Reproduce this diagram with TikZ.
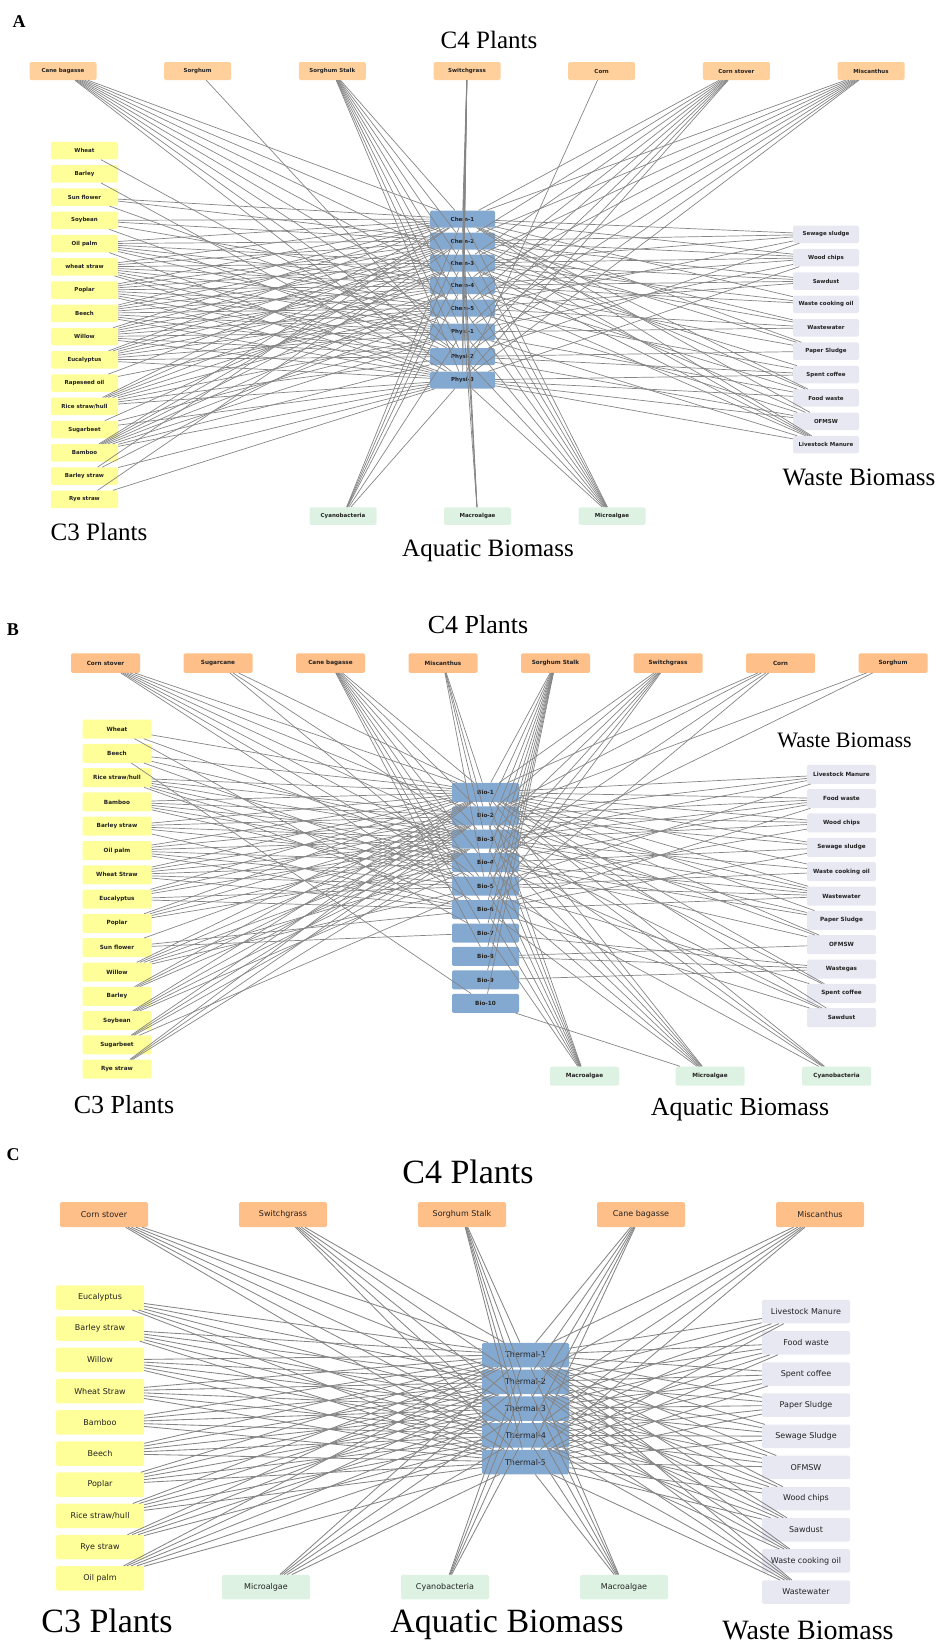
\documentclass[tikz,border=0pt]{standalone}
\usepackage{fontspec}
\setmainfont{Liberation Serif}
\newfontfamily\labf{DejaVu Sans}
\definecolor{orA}{HTML}{FFCF9C}
\definecolor{orB}{HTML}{FFBF88}
\definecolor{yel}{HTML}{FFFF99}
\definecolor{blu}{HTML}{84A9D1}
\definecolor{lav}{HTML}{E8E8F3}
\definecolor{grn}{HTML}{DDF2E2}
\definecolor{edg}{HTML}{858585}
\definecolor{txt}{HTML}{222222}
\begin{document}
\begin{tikzpicture}[x=1pt,y=-1pt]
\useasboundingbox (0,0) rectangle (940,1642);
\tikzset{
  box/.style={rounded corners=1.5pt, inner sep=0pt, text=txt, align=center},
  nA/.style={box, minimum width=67pt, minimum height=17.5pt, font={\labf\bfseries\fontsize{5.5}{6}\selectfont}},
  nB/.style={box, minimum width=69pt, minimum height=19pt, font={\labf\bfseries\fontsize{5.7}{6}\selectfont}},
  nC/.style={box, minimum width=88pt, minimum height=24.5pt, font={\labf\fontsize{8}{8}\selectfont}},
  ttl/.style={inner sep=0pt, text=black},
  plab/.style={inner sep=0pt, text=black, font={\bfseries\fontsize{18}{18}\selectfont}},
  edge/.style={draw=edg, line width=0.7pt},
  edgeC/.style={draw=edg, line width=0.85pt}
}

%================ PANEL A ================
\node[plab] (labA) at (19,21.5) {A};
\node[ttl, font=\fontsize{25}{25}\selectfont] (aC4) at (489,40) {C4 Plants};
\node[ttl, font=\fontsize{25}{25}\selectfont] (aC3) at (99,532) {C3 Plants};
\node[ttl, font=\fontsize{25}{25}\selectfont] (aWB) at (859,477) {Waste Biomass};
\node[ttl, font=\fontsize{25}{25}\selectfont] (aAB) at (488,551) {Aquatic Biomass};

\foreach \t [count=\i] in {Cane bagasse, Sorghum, Sorghum Stalk, Switchgrass, Corn, Corn stover, Miscanthus}
  \node[nA, fill=orA, minimum height=18pt] (aT\i) at ({63+134.67*(\i-1)}, 71) {\t};
\foreach \t [count=\i] in {Wheat, Barley, Sun flower, Soybean, Oil palm, wheat straw, Poplar, Beech, Willow, Eucalyptus, Rapeseed oil, {Rice straw/hull}, Sugarbeet, Bamboo, Barley straw, Rye straw}
  \node[nA, fill=yel] (aL\i) at (84.5, {150.7+23.24*(\i-1)}) {\t};
\foreach \t/\yy [count=\i] in {Chem-1/219, Chem-2/241, Chem-3/263, Chem-4/285.5, Chem-5/308, Physi-1/332, Physi-2/356.5, Physi-3/380}
  \node[nA, fill=blu, minimum width=65pt, minimum height=17pt] (aP\i) at (462.5, \yy) {\t};
\foreach \t [count=\i] in {Sewage sludge, Wood chips, Sawdust, Waste cooking oil, Wastewater, Paper Sludge, Spent coffee, Food waste, OFMSW, Livestock Manure}
  \node[nA, fill=lav, minimum width=66pt] (aR\i) at (826, {234.3+23.38*(\i-1)}) {\t};
\foreach \t/\xx [count=\i] in {Cyanobacteria/343, Macroalgae/477.5, Microalgae/612}
  \node[nA, fill=grn] (aB\i) at (\xx, 516) {\t};

\foreach \s/\ts in {aT1/{1,2,3,4,5,6,7,8}, aT2/{7}, aT3/{1,2,3,4,5,6,7,8}, aT4/{1,2,3,4,5,6,7,8}, aT5/{8}, aT6/{1,2,3,4,5,6,7,8}, aT7/{1,2,3,4,5,6,7,8},
  aL1/{7}, aL2/{8}, aL3/{1,2,6}, aL4/{1,2,4,7}, aL5/{1,2,3,4,5,6,8}, aL6/{1,2,3,4,5,6,7,8}, aL7/{1,2,3,4,5,6,7,8}, aL8/{1,2,3,4,5,6,7,8}, aL9/{1,2,3,4,5,6,7,8}, aL10/{1,2,3,4,5,6,7,8}, aL11/{2,5}, aL12/{1,2,3,4,5,6,7,8}, aL13/{3,6,8}, aL14/{1,2,3,4,5,6,7,8}, aL15/{1,4,8}, aL16/{2,8},
  aR1/{1,2,3,5,7}, aR2/{1,2,3,4,6,8}, aR3/{2,3,4,5}, aR4/{1,3,4}, aR5/{2,3,5,6}, aR6/{1,2,4,7}, aR7/{3,5,7,8}, aR8/{1,2,4,6,8}, aR9/{1,3,5,7,8}, aR10/{1,2,3,4,6,8},
  aB1/{1,2,3,4,6,8}, aB2/{1,2,3,5}, aB3/{1,2,3,4,5,6,7,8}}
  {\foreach \k in \ts {\draw[edge] (\s) -- (aP\k);}}

%================ PANEL B ================
\node[plab] (labB) at (13,630) {B};
\node[ttl, font=\fontsize{26}{26}\selectfont] (bC4) at (478,625) {C4 Plants};
\node[ttl, font=\fontsize{22}{22}\selectfont] (bWB) at (844.5,740) {Waste Biomass};
\node[ttl, font=\fontsize{26}{26}\selectfont] (bC3) at (124,1105) {C3 Plants};
\node[ttl, font=\fontsize{26}{26}\selectfont] (bAB) at (740,1110) {Aquatic Biomass};

\foreach \t [count=\i] in {Corn stover, Sugarcane, Cane bagasse, Miscanthus, Sorghum Stalk, Switchgrass, Corn, Sorghum}
  \node[nB, fill=orB, minimum height=19.5pt] (bT\i) at ({105.5+112.5*(\i-1)}, 663) {\t};
\foreach \t [count=\i] in {Wheat, Beech, {Rice straw/hull}, Bamboo, Barley straw, Oil palm, Wheat Straw, Eucalyptus, Poplar, Sun flower, Willow, Barley, Soybean, Sugarbeet, Rye straw}
  \node[nB, fill=yel] (bL\i) at (117, {729+24.3*(\i-1)}) {\t};
\foreach \i in {1,...,10}
  \node[nB, fill=blu, minimum width=67pt] (bP\i) at (485.5, {792.3+23.45*(\i-1)}) {Bio-\i};
\foreach \t [count=\i] in {Livestock Manure, Food waste, Wood chips, Sewage sludge, Waste cooking oil, Wastewater, Paper Sludge, OFMSW, Wastegas, Spent coffee, Sawdust}
  \node[nB, fill=lav] (bR\i) at (841.5, {774.3+24.34*(\i-1)}) {\t};
\foreach \t/\xx [count=\i] in {Macroalgae/584.5, Microalgae/710, Cyanobacteria/836.5}
  \node[nB, fill=grn] (bB\i) at (\xx, 1076) {\t};

\foreach \s/\ts in {bT1/{1,2,3,4,5,6}, bT2/{1,3,5}, bT3/{1,2,3,4,5,6,7,8}, bT4/{1,2,3,5}, bT5/{1,2,3,4,5,6,7,8,9,10}, bT6/{1,2,3,4,5,6}, bT7/{1,2,4,6}, bT8/{2,4},
  bL1/{1,4,7}, bL2/{1,3,5,10}, bL3/{1,2,3,4,5,6}, bL4/{1,2,3,4,5}, bL5/{1,2,3,4,6}, bL6/{1,2,3,4,5,6}, bL7/{1,2,3,4,5,6}, bL8/{1,2,3,5,6}, bL9/{1,2,3,4}, bL10/{2,6,7}, bL11/{1,2,3,4,5}, bL12/{1,2,3}, bL13/{1,2,3,4}, bL14/{1,2,3,5}, bL15/{1,2,3},
  bR1/{1,2,3,5}, bR2/{1,2,3,4,6}, bR3/{1,2,3,5}, bR4/{1,2,4,6}, bR5/{1,3,5}, bR6/{1,2,3,4,5,6}, bR7/{1,3,4}, bR8/{1,2,4,8}, bR9/{7,8,9}, bR10/{1,2,5}, bR11/{1,3,4,6},
  bB1/{1,2,3,4,5,6,7}, bB2/{1,2,3,4,5,6,10}, bB3/{1,2,3,5}}
  {\foreach \k in \ts {\draw[edge] (\s) -- (bP\k);}}

%================ PANEL C ================
\node[plab] (labC) at (13,1155) {C};
\node[ttl, font=\fontsize{34}{34}\selectfont] (cC4) at (468,1172) {C4 Plants};
\node[ttl, font=\fontsize{34}{34}\selectfont] (cC3) at (107,1621) {C3 Plants};
\node[ttl, font=\fontsize{34}{34}\selectfont] (cAB) at (507,1625) {Aquatic Biomass};
\node[ttl, font=\fontsize{28}{28}\selectfont] (cWB) at (808,1630) {Waste Biomass};

\foreach \t [count=\i] in {Corn stover, Switchgrass, Sorghum Stalk, Cane bagasse, Miscanthus}
  \node[nC, fill=orB, minimum height=25pt] (cT\i) at ({104+179*(\i-1)}, 1214.5) {\t};
\foreach \t [count=\i] in {Eucalyptus, Barley straw, Willow, Wheat Straw, Bamboo, Beech, Poplar, {Rice straw/hull}, Rye straw, Oil palm}
  \node[nC, fill=yel] (cL\i) at (100, {1297.5+31.2*(\i-1)}) {\t};
\foreach \i in {1,...,5}
  \node[nC, fill=blu, minimum width=87pt] (cP\i) at (525.5, {1355+26.75*(\i-1)}) {Thermal-\i};
\foreach \t [count=\i] in {Livestock Manure, Food waste, Spent coffee, Paper Sludge, Sewage Sludge, OFMSW, Wood chips, Sawdust, Waste cooking oil, Wastewater}
  \node[nC, fill=lav, minimum height=23.5pt] (cR\i) at (806, {1311.7+31.15*(\i-1)}) {\t};
\foreach \t/\xx [count=\i] in {Microalgae/266, Cyanobacteria/445, Macroalgae/624}
  \node[nC, fill=grn] (cB\i) at (\xx, 1587) {\t};

\foreach \s/\ts in {cT1/{1,2,3,4,5}, cT2/{1,2,3,4,5}, cT3/{1,2,3,4,5}, cT4/{1,2,3,4,5}, cT5/{1,2,3,4,5},
  cL1/{1,2,3,4,5}, cL2/{1,2,3,4,5}, cL3/{1,2,3,4,5}, cL4/{1,2,3,4,5}, cL5/{1,2,3,4,5}, cL6/{1,2,3,4,5}, cL7/{1,2,3,4,5}, cL8/{1,2,3,4,5}, cL9/{1,2,3,4}, cL10/{1,2,3,4,5},
  cR1/{1,2,3,4,5}, cR2/{1,2,3,4,5}, cR3/{1,2,3,4,5}, cR4/{1,2,3,4,5}, cR5/{1,2,3,4,5}, cR6/{1,2,3,4,5}, cR7/{1,2,3,4,5}, cR8/{1,2,3,4,5}, cR9/{1,2,3,4}, cR10/{1,2,3,4,5},
  cB1/{1,2,3,4,5}, cB2/{1,2,3,4}, cB3/{1,2,3,4,5}}
  {\foreach \k in \ts {\draw[edgeC] (\s) -- (cP\k);}}
\end{tikzpicture}
\end{document}
